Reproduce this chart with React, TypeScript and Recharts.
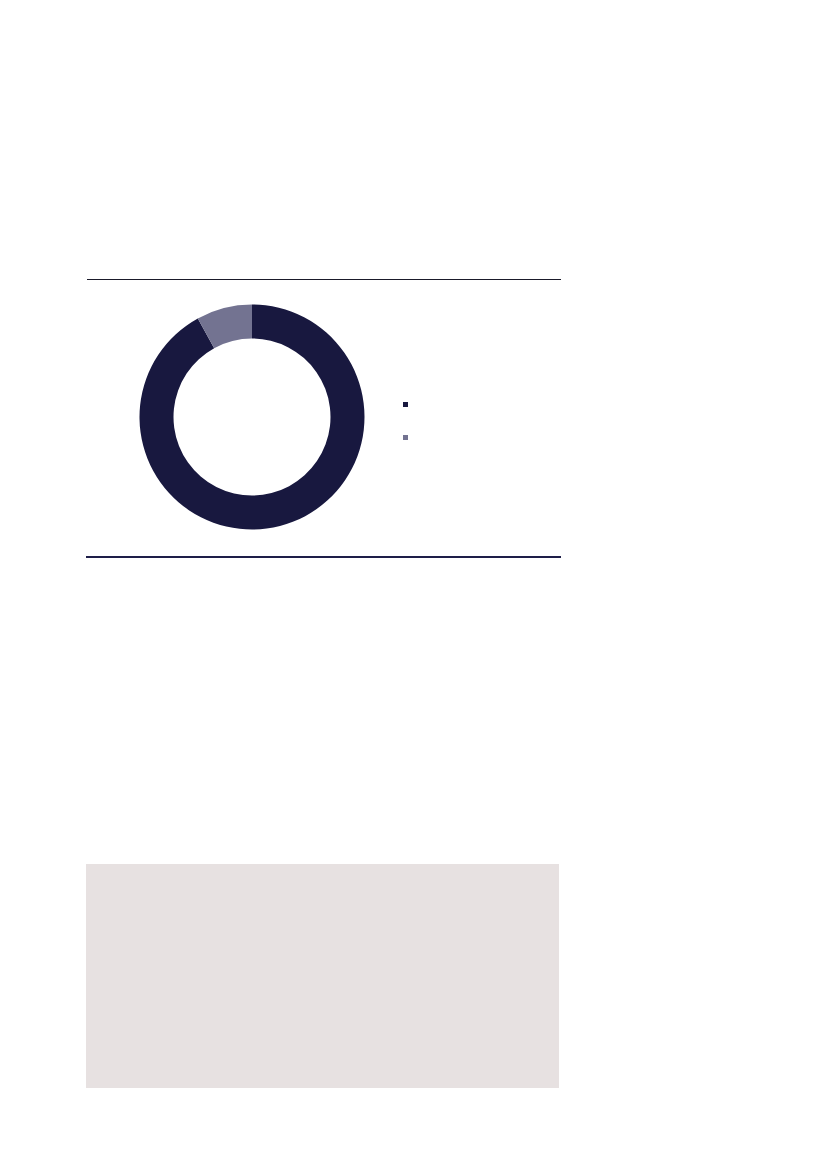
import { PieChart, Pie, Cell, Legend } from "recharts";

const categories = ["Share A", "Share B"];
const shares = [92, 8];
const colors = ["#18183f", "#737391"];

const data = categories.map((name, i) => ({ name, value: shares[i] }));

function SquareLegend({ payload }: any) {
  return (
    <div>
      {(payload || []).map((entry: any, i: number) => (
        <div
          key={i}
          style={{ width: 5, height: 5, backgroundColor: entry.color, marginBottom: i === 0 ? 28 : 0 }}
        />
      ))}
    </div>
  );
}

export default function App() {
  return (
    <div style={{ position: "absolute", left: 0, top: 0, width: 827, height: 1169, background: "#fff" }}>
      <div style={{ position: "absolute", left: 87, top: 278.5, width: 474, height: 1, background: "#1a1a2a" }} />

      <div style={{ position: "absolute", left: 86, top: 280 }}>
        <PieChart width={480} height={276} margin={{ top: 0, right: 0, bottom: 0, left: 0 }}>
          <Pie
            data={data}
            dataKey="value"
            nameKey="name"
            cx={166}
            cy={137}
            innerRadius={78.5}
            outerRadius={112.5}
            startAngle={90}
            endAngle={-270}
            stroke="none"
            isAnimationActive={false}
          >
            {data.map((_, i) => (
              <Cell key={i} fill={colors[i]} />
            ))}
          </Pie>
          <Legend
            content={<SquareLegend />}
            wrapperStyle={{ left: 317, top: 122, width: 10, position: "absolute" }}
          />
        </PieChart>
      </div>

      <div style={{ position: "absolute", left: 86, top: 556, width: 475, height: 2, background: "#1e1e48" }} />

      <div style={{ position: "absolute", left: 86, top: 864, width: 473, height: 224, background: "#e7e1e1" }} />
    </div>
  );
}
